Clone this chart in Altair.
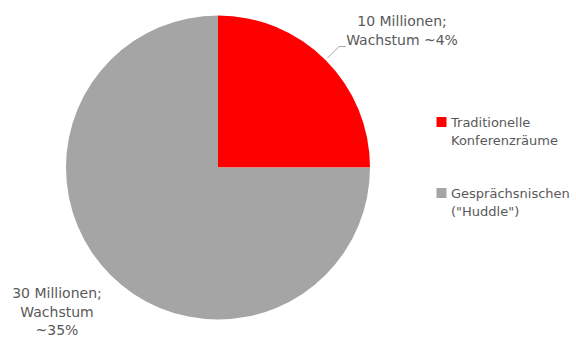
import altair as alt
import pandas as pd

# ---- data ----
categories = ["Traditionelle Konferenzräume", 'Gesprächsnischen ("Huddle")']
legend_labels = ["Traditionelle\nKonferenzräume", 'Gesprächsnischen\n("Huddle")']
values = [10, 30]
slice_labels = ["10 Millionen;\nWachstum ~4%", "30 Millionen;\nWachstum\n~35%"]
colors = ["#FF0000", "#A5A5A5"]
order_idx = [0, 1]

df = pd.DataFrame({
    "cat": categories,
    "val": values,
    "label": slice_labels,
    "legend": legend_labels,
    "order": order_idx,
})

# ---- layout ----
CX, CY, R = 218, 167.5, 152
FONT = "DejaVu Sans"
TXT = "#595959"

color = alt.Color("cat:N", scale=alt.Scale(domain=categories, range=colors), legend=None)

base = alt.Chart(df)

pie = base.mark_arc(outerRadius=R, strokeWidth=0).encode(
    theta=alt.Theta("val:Q", stack=True),
    order=alt.Order("order:Q", sort="ascending"),
    color=color,
    x=alt.value(CX),
    y=alt.value(CY),
)

polar = base.transform_joinaggregate(total="sum(val)").transform_window(
    cum="sum(val)", sort=[alt.SortField("order")], frame=[None, 0]
).transform_calculate(
    mid="(datum.cum - datum.val / 2) / datum.total * 2 * PI"
)


def label_layer(i, rl, dx, dy):
    return polar.transform_filter(alt.datum.order == i).transform_calculate(
        lx=f"{CX} + {rl} * sin(datum.mid)",
        ly=f"{CY} - {rl} * cos(datum.mid)",
    ).mark_text(
        align="center", baseline="alphabetic", lineBreak="\n", lineHeight=18.5,
        font=FONT, fontSize=14, color=TXT, dx=dx, dy=dy,
    ).encode(
        x=alt.X("lx:Q", scale=None),
        y=alt.Y("ly:Q", scale=None),
        text="label:N",
    )


lab_red = label_layer(0, 215, 32, 11)
lab_gray = label_layer(1, 215, -9, -21.5)

# leader line for the red slice
lead = polar.transform_filter(alt.datum.order == 0).transform_calculate(
    x1=f"{CX} + 155 * sin(datum.mid)",
    y1=f"{CY} - 155 * cos(datum.mid)",
    x2=f"{CX} + 171 * sin(datum.mid)",
    y2=f"{CY} - 171 * cos(datum.mid)",
    x3=f"{CX} + 171 * sin(datum.mid) + 7",
)
lead1 = lead.mark_rule(color="#A6A6A6", strokeWidth=1).encode(
    x=alt.X("x1:Q", scale=None), y=alt.Y("y1:Q", scale=None),
    x2="x2:Q", y2="y2:Q",
)
lead2 = lead.mark_rule(color="#A6A6A6", strokeWidth=1).encode(
    x=alt.X("x2:Q", scale=None), y=alt.Y("y2:Q", scale=None),
    x2="x3:Q", y2="y2:Q",
)

# legend (manual, to match multi-line labels)
leg = base.transform_calculate(ly="122 + datum.order * 71")
leg_sym = leg.mark_square(size=100, opacity=1).encode(
    x=alt.value(441.5), y=alt.Y("ly:Q", scale=None), color=color,
)
leg_txt = leg.mark_text(
    align="left", baseline="alphabetic", lineBreak="\n", lineHeight=18,
    font=FONT, fontSize=13, color=TXT, dy=5,
).encode(
    x=alt.value(451), y=alt.Y("ly:Q", scale=None), text="legend:N",
)

chart = alt.layer(pie, lead1, lead2, lab_red, lab_gray, leg_sym, leg_txt).properties(
    width=576, height=338, padding=0, autosize="none", background="white"
).configure_view(stroke=None)

chart.save("out.html", embed_options={"renderer": "svg", "actions": False})
